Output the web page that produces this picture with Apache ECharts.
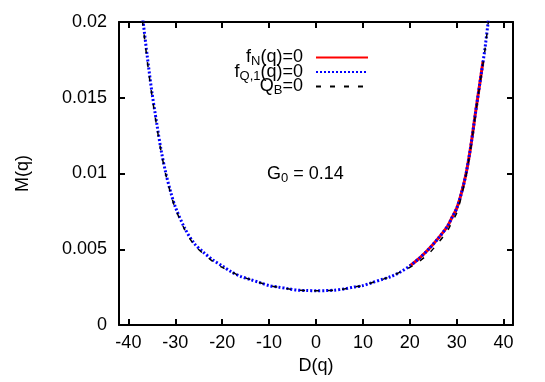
<!DOCTYPE html>
<html>
<head>
<meta charset="utf-8">
<script src="https://cdn.jsdelivr.net/npm/echarts@6/dist/echarts.min.js"></script>
<style>
    html, body { margin: 0; padding: 0; background: #fff; }
    #main { width: 545px; height: 382px; }
</style>
</head>
<body>
<div id="main"></div>
<script>
    // D(q) positions and M(q) values
    var dBlue = [-37, -36, -35, -34, -33, -32, -31, -30, -28, -26, -24, -22, -20, -18, -16, -14, -12, -10, -8, -6, -4, -2,
        0, 2, 4, 6, 8, 10, 12, 14, 16, 18, 20, 22, 24, 26, 28, 29, 30, 31, 32, 33, 34, 35, 36, 37];
    var mBlue = [0.0204, 0.0178, 0.0154, 0.0134, 0.0115, 0.0100, 0.0088, 0.0078, 0.0064, 0.0054, 0.0048, 0.0043, 0.0039,
        0.0035, 0.0032, 0.0030, 0.0028, 0.0026, 0.0025, 0.0024, 0.0023, 0.00228,
        0.00226, 0.00227, 0.0023, 0.00238, 0.0025, 0.0026, 0.0028, 0.0030, 0.0032, 0.0035, 0.0039, 0.0044, 0.0050,
        0.0057, 0.0065, 0.0071, 0.0077, 0.0087, 0.0100, 0.0118, 0.0140, 0.0161, 0.0182, 0.0208];

    var dRed = [20, 22, 24, 26, 28, 29, 30, 31, 32, 33, 34, 35, 35.6];
    var mRed = [0.0039, 0.0044, 0.0050, 0.0057, 0.0065, 0.0071, 0.0077, 0.0087, 0.0100, 0.0118, 0.0140, 0.0161, 0.0174];

    var dBlack = dBlue;
    var mBlack = [0.0201, 0.0175, 0.0152, 0.0132, 0.0114, 0.0099, 0.0087, 0.0077, 0.0063, 0.0053, 0.0047, 0.0042, 0.0038,
        0.0035, 0.0032, 0.0030, 0.0028, 0.0026, 0.0025, 0.0024, 0.0023, 0.00228,
        0.00226, 0.00227, 0.0023, 0.00238, 0.0025, 0.0026, 0.0028, 0.0030, 0.0032, 0.0035, 0.0038, 0.0042, 0.0047,
        0.0054, 0.0062, 0.0068, 0.0074, 0.0085, 0.0099, 0.0117, 0.0139, 0.0160, 0.0181, 0.0207];

    var xTicks = [-40, -30, -20, -10, 0, 10, 20, 30, 40];

    function pairs(xs, ys) {
        var out = [];
        for (var i = 0; i < xs.length; i++) out.push([xs[i], ys[i]]);
        return out;
    }

    var font = '"Liberation Sans", Arial, sans-serif';
    var axisLine = { show: true, onZero: false, lineStyle: { color: '#000', width: 2 } };
    var tickIn = { show: true, inside: true, length: 6, lineStyle: { color: '#000', width: 2 } };

    // subscripts: same line height, pushed down by top padding
    var richText = {
        t: { fontSize: 18, lineHeight: 18, fontFamily: font, color: '#000' },
        s: { fontSize: 13, lineHeight: 10, fontFamily: font, color: '#000', padding: [8, 0, 0, 0] }
    };
    var legendLabels = {
        'fN': '{t|f}{s|N}{t|(q)=0}',
        'fQ1': '{t|f}{s|Q,1}{t|(q)=0}',
        'QB': '{t|Q}{s|B}{t|=0}'
    };

    var chart = echarts.init(document.getElementById('main'));
    var option = {
        backgroundColor: '#fff',
        animation: false,
        grid: { left: 119, right: 32, top: 22, bottom: 57, outerBoundsMode: 'none' },
        legend: {
            orient: 'vertical',
            align: 'right',
            right: 171,
            top: 42,
            itemWidth: 52,
            itemHeight: 12,
            itemGap: -6.5,
            itemStyle: { opacity: 0 },
            data: ['fN', 'fQ1', 'QB'],
            formatter: function (name) { return legendLabels[name]; },
            textStyle: { rich: richText, padding: [0, 8, 0, 0] }
        },
        xAxis: [{
            type: 'value',
            min: -42,
            max: 42,
            position: 'bottom',
            name: 'D(q)',
            nameLocation: 'middle',
            nameGap: 28,
            nameTextStyle: { fontSize: 18, fontFamily: font, color: '#000' },
            axisLine: axisLine,
            axisTick: Object.assign({ customValues: xTicks }, tickIn),
            axisLabel: { customValues: xTicks, fontSize: 18, fontFamily: font, color: '#000', margin: 9 },
            splitLine: { show: false }
        }, {
            type: 'value',
            min: -42,
            max: 42,
            position: 'top',
            axisLine: axisLine,
            axisTick: Object.assign({ customValues: xTicks }, tickIn),
            axisLabel: { show: false },
            splitLine: { show: false }
        }],
        yAxis: [{
            type: 'value',
            min: 0,
            max: 0.02,
            interval: 0.005,
            position: 'left',
            name: 'M(q)',
            nameLocation: 'middle',
            nameGap: 87,
            nameTextStyle: { fontSize: 18, fontFamily: font, color: '#000' },
            axisLine: axisLine,
            axisTick: tickIn,
            axisLabel: {
                fontSize: 18, fontFamily: font, color: '#000', margin: 12,
                formatter: function (v) { return String(+v.toFixed(3)); }
            },
            splitLine: { show: false }
        }, {
            type: 'value',
            min: 0,
            max: 0.02,
            interval: 0.005,
            position: 'right',
            axisLine: axisLine,
            axisTick: tickIn,
            axisLabel: { show: false },
            splitLine: { show: false }
        }],
        graphic: [{
            type: 'text',
            left: 267,
            top: 164,
            style: {
                text: '{t|G}{s|0}{t| = 0.14}',
                rich: richText
            }
        }],
        series: [{
            name: 'fN',
            type: 'line',
            data: pairs(dRed, mRed),
            smooth: 0.3,
            symbol: 'none',
            lineStyle: { color: '#ff0000', width: 3 },
            itemStyle: { color: '#ff0000' }
        }, {
            name: 'fQ1',
            type: 'line',
            data: pairs(dBlue, mBlue),
            smooth: 0.3,
            symbol: 'none',
            lineStyle: { color: '#0000ff', width: 3, type: [2, 2], cap: 'butt' },
            itemStyle: { color: '#0000ff' }
        }, {
            name: 'QB',
            type: 'line',
            data: pairs(dBlack, mBlack),
            smooth: 0.3,
            symbol: 'none',
            lineStyle: { color: '#000', width: 1.5, type: [5, 9] },
            itemStyle: { color: '#000' }
        }]
    };
    chart.setOption(option);
</script>
</body>
</html>
